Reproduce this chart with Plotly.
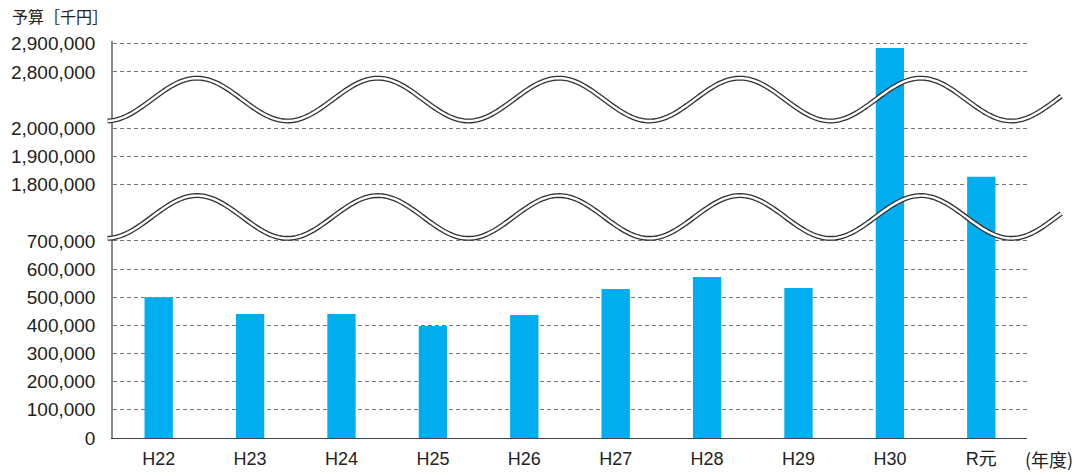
import numpy as np
import plotly.graph_objects as go

# Budget by fiscal year (thousand yen)
years = ["H22", "H23", "H24", "H25", "H26", "H27", "H28", "H29", "H30", "R元"]
budget = [500000, 440000, 440000, 398000, 437000, 529000, 572000, 533000, 2885000, 1828000]

# Broken-axis tick values
tick_values = [0, 100000, 200000, 300000, 400000, 500000, 600000, 700000,
               1800000, 1900000, 2000000, 2800000, 2900000]

# Piecewise mapping of real values onto the compressed axis
break_real = [0, 700000, 1800000, 2000000, 2800000, 2900000]
break_axis = [0, 7, 9, 11, 13, 14]


def to_axis(v):
    return np.interp(v, break_real, break_axis)


Y_MAX = 14.1
FONT = "Liberation Sans, Arial, Noto Sans CJK JP, sans-serif"
TEXT = "#222222"

fig = go.Figure()
fig.add_trace(go.Bar(
    x=years,
    y=to_axis(budget),
    width=0.31,
    marker=dict(color="#00AEEF", line=dict(width=0)),
    customdata=budget,
    hovertemplate="%{x}: %{customdata:,}千円<extra></extra>",
))


def wave_path(center, amp, x0=-0.006, x1=1.0375, peak=0.0919, period=0.198):
    xs = np.linspace(x0, x1, 400)
    ys = (center + amp * np.cos(2 * np.pi * (xs - peak) / period)) / Y_MAX
    return "M " + " L ".join(f"{a:.5f},{b:.5f}" for a, b in zip(xs, ys))


# Double wavy break markers between axis segments
for c in (12.02, 7.85):
    p = wave_path(c, 0.76)
    fig.add_shape(type="path", path=p, xref="paper", yref="paper",
                  line=dict(color="#333333", width=5))
    fig.add_shape(type="path", path=p, xref="paper", yref="paper",
                  line=dict(color="white", width=2.4))

fig.update_layout(
    width=1077, height=473,
    margin=dict(l=113, r=50, t=41, b=35, autoexpand=False),
    paper_bgcolor="white", plot_bgcolor="white",
    showlegend=False,
    font=dict(family=FONT, color=TEXT, size=18),
)

fig.update_xaxes(
    type="category", automargin=False,
    showline=True, linecolor="#444444", linewidth=1.2,
    showgrid=False, ticks="",
    tickfont=dict(size=18, color=TEXT),
    ticklabelstandoff=4,
)

fig.update_yaxes(
    range=[0, Y_MAX], automargin=False,
    tickvals=[to_axis(v) for v in tick_values],
    ticktext=[f"{v:,}" for v in tick_values],
    showline=True, linecolor="#888888", linewidth=1.5,
    showgrid=True, gridcolor="#777777", gridwidth=1, griddash="4px,3px",
    zeroline=False, ticks="",
    tickfont=dict(size=19, color=TEXT),
    ticklabelstandoff=12,
)

fig.add_annotation(text="予算［千円］", xref="paper", yref="paper",
                   x=-0.113, y=1.063, xanchor="left", yanchor="middle",
                   showarrow=False,
                   font=dict(family="Noto Sans CJK JP, sans-serif", size=16, color=TEXT))
fig.add_annotation(text="(年度)", xref="paper", yref="paper",
                   x=1.0525, y=-0.053, xanchor="right", yanchor="middle",
                   showarrow=False,
                   font=dict(family="Noto Sans CJK JP, sans-serif", size=18, color=TEXT))

fig.write_html("out.html")
